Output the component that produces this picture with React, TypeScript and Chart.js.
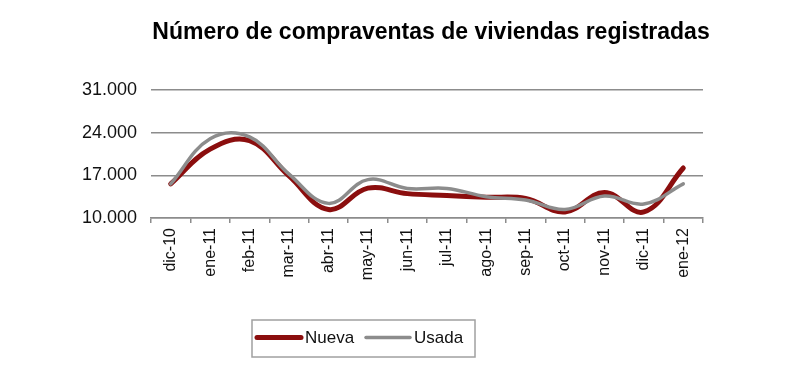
import React, { useEffect, useRef } from "react";
import { Chart, registerables } from "chart.js";

Chart.register(...registerables);

const TITLE = "Número de compraventas de viviendas registradas";
const categories = ["dic-10", "ene-11", "feb-11", "mar-11", "abr-11", "may-11", "jun-11", "jul-11", "ago-11", "sep-11", "oct-11", "nov-11", "dic-11", "ene-12"];
const nueva = [15600, 21300, 22700, 16900, 11400, 14900, 14000, 13700, 13400, 13200, 11000, 14200, 11000, 18200];
const usada = [15600, 23000, 23300, 17200, 12400, 16300, 14850, 14850, 13500, 12950, 11400, 13600, 12300, 15600];
const yTicks = [10000, 17000, 24000, 31000];

const RED = "#8b0e0e";
const GRAY = "#8c8c8c";
const FONT = "'Liberation Sans', Arial, sans-serif";

function fmt(v: number) {
  return String(Math.round(v)).replace(/\B(?=(\d{3})+(?!\d))/g, ".");
}

const overlay = {
  id: "overlay",
  afterDraw(chart: any) {
    const ctx = chart.ctx;
    ctx.save();
    // title
    ctx.fillStyle = "#000";
    ctx.font = `bold 23px ${FONT}`;
    ctx.textAlign = "center";
    ctx.textBaseline = "alphabetic";
    ctx.fillText(TITLE, 431, 39);
    // legend box
    const bx = 252, by = 320, bw = 223, bh = 37;
    ctx.strokeStyle = "#a0a0a0";
    ctx.lineWidth = 1.5;
    ctx.strokeRect(bx, by, bw, bh);
    const items = chart.data.datasets;
    const sampleX = [257, 366];
    const ly = by + bh / 2;
    ctx.font = `17px ${FONT}`;
    ctx.textAlign = "left";
    ctx.textBaseline = "middle";
    items.forEach((ds: any, i: number) => {
      ctx.strokeStyle = ds.borderColor;
      ctx.lineWidth = ds.borderWidth;
      ctx.lineCap = "round";
      ctx.beginPath();
      ctx.moveTo(sampleX[i], ly - 1);
      ctx.lineTo(sampleX[i] + 44, ly - 1);
      ctx.stroke();
      ctx.fillStyle = "#111";
      ctx.fillText(ds.label, sampleX[i] + 48, ly);
    });
    ctx.restore();
  },
};

export default function App() {
  const ref = useRef<HTMLCanvasElement | null>(null);
  useEffect(() => {
    if (!ref.current) return;
    const chart = new Chart(ref.current, {
      type: "line",
      data: {
        labels: categories,
        datasets: [
          {
            label: "Nueva",
            data: nueva,
            borderColor: RED,
            backgroundColor: RED,
            borderWidth: 5,
            pointRadius: 0,
            tension: 0.4,
            borderCapStyle: "round",
            order: 1,
          },
          {
            label: "Usada",
            data: usada,
            borderColor: GRAY,
            backgroundColor: GRAY,
            borderWidth: 3.5,
            pointRadius: 0,
            tension: 0.4,
            borderCapStyle: "round",
            order: 0,
          },
        ],
      },
      options: {
        responsive: false,
        animation: false,
        devicePixelRatio: 1,
        layout: { padding: { top: 90, right: 97, left: 0, bottom: 0 } },
        plugins: {
          legend: { display: false },
          title: { display: false },
          tooltip: { enabled: false },
        },
        scales: {
          x: {
            offset: true,
            afterFit: (s: any) => {
              s.height = 166;
            },
            grid: {
              offset: true,
              drawOnChartArea: false,
              drawTicks: true,
              tickLength: 5,
              color: GRAY,
              lineWidth: 1.5,
            },
            border: { display: true, color: GRAY, width: 1.5 },
            ticks: {
              minRotation: 90,
              maxRotation: 90,
              autoSkip: false,
              padding: 5,
              color: "#111",
              font: { family: FONT, size: 16 },
            },
          },
          y: {
            min: 10000,
            max: 31000,
            afterFit: (s: any) => {
              s.width = 151;
            },
            afterBuildTicks: (s: any) => {
              s.ticks = yTicks.map((v) => ({ value: v }));
            },
            grid: { color: GRAY, lineWidth: 1.5, drawTicks: false },
            border: { display: false },
            ticks: {
              padding: 14,
              color: "#111",
              font: { family: FONT, size: 18 },
              callback: (v: any) => fmt(Number(v)),
            },
          },
        },
      },
      plugins: [overlay],
    });
    return () => chart.destroy();
  }, []);
  return (
    <div style={{ position: "fixed", left: 0, top: 0, width: 800, height: 384, background: "#fff" }}>
      <canvas ref={ref} width={800} height={384} style={{ display: "block" }} />
    </div>
  );
}
